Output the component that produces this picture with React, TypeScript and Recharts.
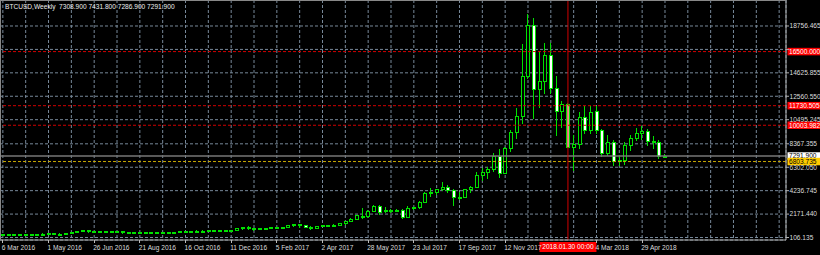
import { ComposedChart, Bar, XAxis, YAxis, CartesianGrid, ReferenceLine } from "recharts";

// weekly BTCUSD bars, week start (Sunday)
const weeks = [
  "6 Mar 2016", "13 Mar 2016", "20 Mar 2016", "27 Mar 2016", "3 Apr 2016", "10 Apr 2016", "17 Apr 2016", "24 Apr 2016",
  "1 May 2016", "8 May 2016", "15 May 2016", "22 May 2016", "29 May 2016", "5 Jun 2016", "12 Jun 2016", "19 Jun 2016",
  "26 Jun 2016", "3 Jul 2016", "10 Jul 2016", "17 Jul 2016", "24 Jul 2016", "31 Jul 2016", "7 Aug 2016", "14 Aug 2016",
  "21 Aug 2016", "28 Aug 2016", "4 Sep 2016", "11 Sep 2016", "18 Sep 2016", "25 Sep 2016", "2 Oct 2016", "9 Oct 2016",
  "16 Oct 2016", "23 Oct 2016", "30 Oct 2016", "6 Nov 2016", "13 Nov 2016", "20 Nov 2016", "27 Nov 2016", "4 Dec 2016",
  "11 Dec 2016", "18 Dec 2016", "25 Dec 2016", "1 Jan 2017", "8 Jan 2017", "15 Jan 2017", "22 Jan 2017", "29 Jan 2017",
  "5 Feb 2017", "12 Feb 2017", "19 Feb 2017", "26 Feb 2017", "5 Mar 2017", "12 Mar 2017", "19 Mar 2017", "26 Mar 2017",
  "2 Apr 2017", "9 Apr 2017", "16 Apr 2017", "23 Apr 2017", "30 Apr 2017", "7 May 2017", "14 May 2017", "21 May 2017",
  "28 May 2017", "4 Jun 2017", "11 Jun 2017", "18 Jun 2017", "25 Jun 2017", "2 Jul 2017", "9 Jul 2017", "16 Jul 2017",
  "23 Jul 2017", "30 Jul 2017", "6 Aug 2017", "13 Aug 2017", "20 Aug 2017", "27 Aug 2017", "3 Sep 2017", "10 Sep 2017",
  "17 Sep 2017", "24 Sep 2017", "1 Oct 2017", "8 Oct 2017", "15 Oct 2017", "22 Oct 2017", "29 Oct 2017", "5 Nov 2017",
  "12 Nov 2017", "19 Nov 2017", "26 Nov 2017", "3 Dec 2017", "10 Dec 2017", "17 Dec 2017", "24 Dec 2017", "31 Dec 2017",
  "7 Jan 2018", "14 Jan 2018", "21 Jan 2018", "28 Jan 2018", "4 Feb 2018", "11 Feb 2018", "18 Feb 2018", "25 Feb 2018",
  "4 Mar 2018", "11 Mar 2018", "18 Mar 2018", "25 Mar 2018", "1 Apr 2018", "8 Apr 2018", "15 Apr 2018", "22 Apr 2018",
  "29 Apr 2018", "6 May 2018", "13 May 2018", "20 May 2018", "27 May 2018",
];

const open = [
  404, 412, 410, 416, 420, 421, 426, 450, 455, 459, 455, 442, 472, 575, 690, 760,
  660, 680, 650, 665, 660, 655, 590, 585, 580, 575, 608, 610, 608, 600, 610, 615,
  638, 650, 700, 710, 705, 735, 735, 765, 770, 790, 900, 998, 910, 830, 920, 915,
  1015, 1000, 1050, 1180, 1270, 1230, 1040, 970, 1090, 1185, 1200, 1250, 1350, 1560, 1780, 2000,
  1990, 2470, 2880, 2480, 2560, 2520, 2510, 1900, 2740, 2760, 3250, 4060, 4100, 4350, 4580, 4320,
  3680, 3700, 4350, 4590, 5600, 5880, 6150, 7320, 5820, 7970, 9380, 10820, 14345, 18845, 13200, 13900,
  16200, 13260, 11260, 11850, 8113, 8350, 10705, 9585, 11300, 9585, 7585, 8553, 6880, 6960, 8262, 8854,
  9295, 9530, 8640, 8520, 7308.9,
];
const high = [
  418, 419, 419, 425, 424, 430, 452, 468, 465, 463, 460, 476, 590, 700, 780, 770,
  705, 690, 680, 678, 665, 662, 598, 590, 590, 615, 630, 615, 612, 615, 620, 640,
  655, 705, 740, 740, 755, 750, 770, 775, 790, 930, 1000, 1150, 920, 930, 930, 1020,
  1060, 1060, 1200, 1290, 1330, 1250, 1080, 1100, 1210, 1220, 1260, 1360, 1600, 1800, 2100, 2700,
  2550, 2980, 2960, 2760, 2650, 2660, 2600, 2860, 2820, 3300, 4120, 4450, 4400, 4980, 4700, 4400,
  4130, 4400, 4620, 5850, 6200, 6300, 7530, 7880, 8050, 9550, 11500, 17170, 19800, 19430, 16540, 17230,
  17230, 14350, 12170, 11940, 9145, 11200, 11740, 11740, 11740, 9644, 9145, 8703, 7380, 8550, 9145, 9735,
  9938, 9644, 9057, 8700, 7431.8,
];
const low = [
  395, 405, 406, 412, 415, 418, 424, 442, 442, 449, 436, 436, 470, 565, 650, 560,
  620, 605, 640, 650, 640, 480, 578, 565, 570, 570, 600, 600, 590, 595, 605, 610,
  630, 645, 690, 700, 700, 720, 730, 750, 765, 785, 890, 880, 750, 820, 880, 910,
  950, 990, 1040, 1150, 1000, 1050, 890, 950, 1080, 1160, 1190, 1240, 1340, 1560, 1700, 1850,
  1880, 2420, 2200, 2380, 2380, 2480, 1830, 1870, 2600, 2680, 3200, 3800, 3960, 4300, 4100, 2970,
  3470, 3650, 4150, 4550, 5180, 5380, 6000, 5470, 5760, 7760, 8850, 10230, 14200, 10620, 11640, 12820,
  12820, 9150, 9880, 8060, 6060, 7970, 9290, 9290, 9350, 7293, 7380, 6500, 6500, 6590, 7830, 8703,
  8766, 8263, 7970, 7100, 7286.9,
];
const close = [
  412, 410, 416, 420, 421, 426, 450, 455, 459, 455, 442, 472, 575, 690, 760, 660,
  680, 650, 665, 660, 655, 590, 585, 580, 575, 608, 610, 608, 600, 610, 615, 638,
  650, 700, 710, 705, 735, 735, 765, 770, 790, 900, 998, 910, 830, 920, 915, 1015,
  1000, 1050, 1180, 1270, 1230, 1040, 970, 1090, 1185, 1200, 1250, 1350, 1560, 1780, 2050, 1990,
  2470, 2880, 2330, 2560, 2520, 2560, 1900, 2740, 2760, 3250, 4060, 4100, 4350, 4600, 4320, 3680,
  3700, 4350, 4590, 5650, 5880, 6150, 7320, 5820, 7970, 9380, 10820, 14345, 18845, 13200, 13900, 16200,
  13260, 11260, 11850, 8113, 8350, 10705, 9585, 11200, 9585, 7585, 8553, 6878, 6960, 8262, 8854, 9295,
  9530, 8640, 8520, 7320, 7291.9,
];

const priceTicks = [106.135, 2171.44, 4236.745, 6302.05, 8367.355, 10495.245, 12560.55, 14625.855, 16691.16, 18756.465];
const coveredTicks = [16691.16];
const redLevels = [16500.0, 11730.505, 10003.982];
const yellowLevel = 6803.735;
const markerWeek = 99;
const markerLabel = "2018.01.30 00:00";
const symbol = "BTCUSD,Weekly";
const SLOTS = 137;

const GREEN = "#00e000";
const GRID = "#778899";
const TEXT = "#dcdcdc";
const FONT = "'Liberation Sans', Arial, sans-serif";
const FS = 6.6;

const last = weeks.length - 1;
const bid = close[last];

const rows = Array.from({ length: SLOTS }, (_, i) =>
  i <= last
    ? { idx: i, range: [low[i], high[i]], o: open[i], h: high[i], l: low[i], c: close[i] }
    : { idx: i, range: null },
);

function Candle(props: any) {
  const { x, y, width, height, payload } = props;
  if (!payload || payload.o == null || y == null || height == null) return null;
  const { o, h, l, c } = payload;
  const py = (p: number) => (h === l ? y : y + ((h - p) / (h - l)) * height);
  const cx = Math.round(x + width / 2);
  const top = Math.round(py(Math.max(o, c)));
  const bot = Math.round(py(Math.min(o, c)));
  const bull = c > o;
  return (
    <g shapeRendering="crispEdges">
      <line x1={cx - 0.5} x2={cx - 0.5} y1={Math.round(y)} y2={Math.round(y + height) + 1} stroke={GREEN} />
      <rect x={cx - 1.5} y={top + 0.5} width={3} height={Math.max(bot - top, 1)} fill={bull ? "#000" : "#fff"} stroke={GREEN} />
    </g>
  );
}

function XTick(props: any) {
  const { x, y, payload } = props;
  const i = payload.value as number;
  if (i % 8 !== 0 || i > last || i === 96) return null;
  return (
    <g>
      <line x1={x} x2={x} y1={y - 3} y2={y} stroke="#bbb" shapeRendering="crispEdges" />
      <text x={x - 1} y={y + 6.5} fill={TEXT} fontSize={FS} fontFamily={FONT}>{weeks[i]}</text>
    </g>
  );
}

function YTick(props: any) {
  const { x, y, payload } = props;
  const v = payload.value as number;
  if (coveredTicks.includes(v)) return null;
  return (
    <text x={x + 0.5} y={y} dy="0.35em" fill={TEXT} fontSize={FS} fontFamily={FONT}>{v.toFixed(3)}</text>
  );
}

function PriceTag(props: any) {
  const { viewBox, value, bg, fg } = props;
  if (!viewBox) return null;
  const x0 = viewBox.x + viewBox.width + 1.5;
  return (
    <g>
      <rect x={x0} y={viewBox.y - 3.75} width={36} height={7.5} fill={bg} />
      <text x={x0 + 1.5} y={viewBox.y} dy="0.35em" fill={fg} fontSize={FS} fontFamily={FONT}>{value}</text>
    </g>
  );
}

function TimeTag(props: any) {
  const { viewBox } = props;
  if (!viewBox) return null;
  const cx = viewBox.x;
  const y0 = viewBox.y + viewBox.height + 2;
  return (
    <g>
      <rect x={cx - 28.5} y={y0} width={57} height={10} fill="#ff0000" />
      <text x={cx} y={y0 + 5} dy="0.35em" textAnchor="middle" fill="#fff" fontSize={FS} fontFamily={FONT}>{markerLabel}</text>
    </g>
  );
}

export default function App() {
  const title = `${symbol}  ${open[last].toFixed(3)} ${high[last].toFixed(3)} ${low[last].toFixed(3)} ${close[last].toFixed(3)}`;
  return (
    <div style={{ position: "fixed", left: 0, top: 0, width: 820, height: 255, background: "#000", overflow: "hidden" }}>
      <ComposedChart width={820} height={255} data={rows} margin={{ top: 0, right: 0, bottom: 0, left: 0 }}>
        <CartesianGrid stroke={GRID} strokeDasharray="3 2" />
        <XAxis
          dataKey="idx"
          type="category"
          interval={3}
          height={15}
          padding={{ left: 0, right: 4 }}
          axisLine={{ stroke: "#b0b0b0" }}
          tickLine={false}
          tickSize={3}
          tickMargin={0}
          tick={<XTick />}
        />
        <YAxis
          orientation="right"
          type="number"
          width={34}
          domain={[-114.3, 21049]}
          allowDataOverflow
          ticks={priceTicks}
          interval={0}
          axisLine={{ stroke: "#b0b0b0" }}
          tickLine={{ stroke: "#b0b0b0" }}
          tickSize={3}
          tickMargin={0}
          tick={<YTick />}
        />
        <Bar dataKey="range" shape={<Candle />} isAnimationActive={false} />
        {redLevels.map((v) => (
          <ReferenceLine key={v} y={v} stroke="#d00000" strokeDasharray="3 2"
            label={<PriceTag value={v.toFixed(3)} bg="#ff0000" fg="#fff" />} />
        ))}
        <ReferenceLine y={bid} stroke="#777" strokeWidth={1.5}
          label={<PriceTag value={bid.toFixed(3)} bg="#fff" fg="#000" />} />
        <ReferenceLine y={yellowLevel} stroke="#c8a800" strokeDasharray="3 2"
          label={<PriceTag value={yellowLevel.toFixed(3)} bg="#ffcc00" fg="#000" />} />
        <ReferenceLine x={markerWeek} stroke="#d00000" label={<TimeTag />} />
      </ComposedChart>
      <div style={{ position: "absolute", left: 0, top: 0, width: 786, height: 240, borderLeft: "1px solid #888", borderTop: "1px solid #888", boxSizing: "border-box", pointerEvents: "none" }} />
      <div style={{ position: "absolute", left: 5, top: 3, color: "#eee", fontSize: FS, fontFamily: FONT, whiteSpace: "pre", lineHeight: "8px" }}>
        {title}
      </div>
    </div>
  );
}
